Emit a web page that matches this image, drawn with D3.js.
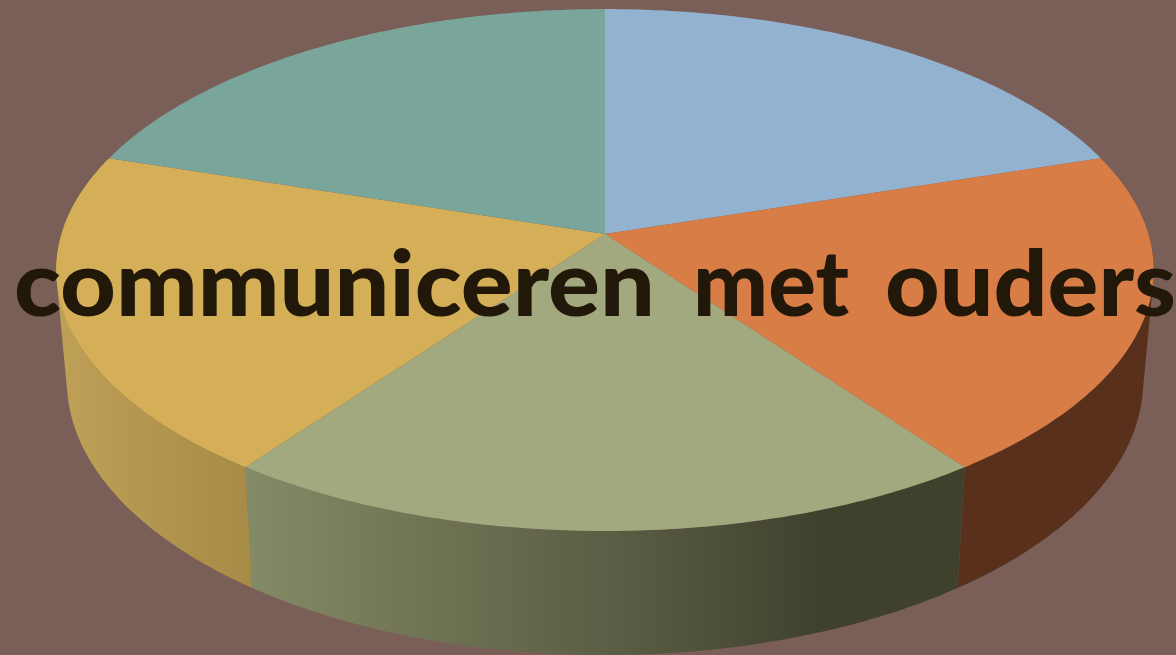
<!DOCTYPE html>
<html><head><meta charset="utf-8">
<script src="https://cdn.jsdelivr.net/npm/d3@7"></script>
<style>html,body{margin:0;padding:0;background:#795f57;overflow:hidden}svg{display:block}</style>
</head><body><svg id="c" width="1176" height="655"></svg>
<script>
const categories = ["A","B","C","D","E"];
const sliceValues = [20,20,20,20,20];
const titleWords = ["communiceren","met","ouders"];

const topColors = {A:"#92b2d0",B:"#d97d47",C:"#a3a97f",D:"#d5af58",E:"#7aa59b"};
const W=1176,H=655,k=-0.138;
const topRim={cx:605,cy:234,a:543.5,b:256};
const botRim={cx:605,cy:343,a:533,b:269};
const wordBox=[[14,641],[693,156],[885,291]];
const project=(r,t)=>{const X=Math.sin(t),Y=-Math.cos(t),d=1+k*Y;return [r.cx+r.a*X/d,r.cy+r.b*Y/d];};
const arcPts=(r,a,b)=>d3.range(0,121).map(i=>project(r,a+(b-a)*i/120));
const line=d3.line();
const svg=d3.select("#c");
svg.append("rect").attr("width",W).attr("height",H).attr("fill","#795f57");
const arcs=d3.pie().sort(null)(sliceValues).map((d,i)=>({...d,cat:categories[i]}));

const defs=svg.append("defs");
const grads={
 D:{x1:56,x2:252,stops:[[0,"#bfa057"],[1,"#a68b46"]]},
 C:{x1:245,x2:965,stops:[[0,"#848b69"],[0.2,"#747856"],[0.5,"#5c5e45"],[0.8,"#40412d"],[1,"#40412d"]]}
};
Object.entries(grads).forEach(([c,g])=>{
 const lg=defs.append("linearGradient").attr("id","g"+c).attr("gradientUnits","userSpaceOnUse")
  .attr("x1",g.x1).attr("x2",g.x2).attr("y1",0).attr("y2",0);
 g.stops.forEach(s=>lg.append("stop").attr("offset",s[0]).attr("stop-color",s[1]));
});
const sideFill=c=>grads[c]?`url(#g${c})`:"#58301c";
// the wall is swept as a union of thin quads so its silhouette follows the rim tangents
const wallPath=d=>{
 const a=arcPts(topRim,d.startAngle,d.endAngle),b=arcPts(botRim,d.startAngle,d.endAngle);
 return d3.range(a.length-1).map(i=>{
  const q=[a[i],a[i+1],b[i+1],b[i]];
  return line(d3.polygonArea(q)<0?q.slice().reverse():q)+"Z";
 }).join("");
};
svg.append("g").selectAll("path").data(arcs.filter(d=>["B","D","C"].includes(d.cat))).join("path")
 .attr("d",wallPath)
 .attr("fill",d=>sideFill(d.cat));
svg.append("g").selectAll("path").data(arcs).join("path")
 .attr("d",d=>line([[topRim.cx,topRim.cy]].concat(arcPts(topRim,d.startAngle,d.endAngle)))+"Z")
 .attr("fill",d=>topColors[d.cat]);
svg.append("g").selectAll("text").data(titleWords).join("text").text(d=>d)
 .attr("x",(d,i)=>wordBox[i][0]).attr("y",316)
 .attr("textLength",(d,i)=>wordBox[i][1]).attr("lengthAdjust","spacingAndGlyphs")
 .attr("font-family","Lato").attr("font-weight",900).attr("font-size",92).attr("fill","#211809");
</script></body></html>
